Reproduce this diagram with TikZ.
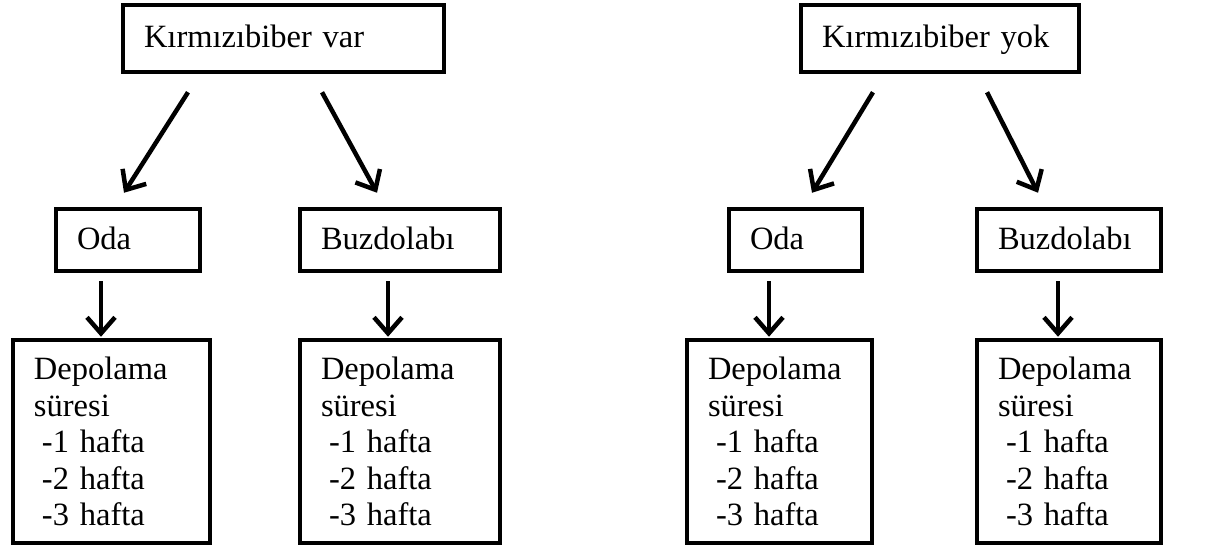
\documentclass[tikz,border=0pt]{standalone}
\usepackage{fontspec}
\setmainfont{Liberation Serif}
\usetikzlibrary{arrows.meta}

\tikzset{
  kutu/.style={draw, line width=4.5pt, inner xsep=21pt, inner ysep=0pt, align=left,
    font=\fontsize{32.5}{36.5}\selectfont},
  tek/.style={text height=22pt, text depth=4pt, minimum height=#1},
  ok/.style={line width=4.5pt, -{Straight Barb[length=16pt, width=28pt]}}
}

\begin{document}
\begin{tikzpicture}[x=1pt, y=-1pt]
            \useasboundingbox (0,0) rectangle (1211,551);
            % ust kutular
            \node[kutu, tek=67pt, minimum width=321pt, text width=279pt] (kvar) at (283.5,38.5) {Kırmızıbiber var};
            \node[kutu, tek=67pt, minimum width=278pt, text width=236pt] (kyok) at (940,38.5) {Kırmızıbiber yok};
            % orta kutular
            \node[kutu, tek=62pt, minimum width=144pt, text width=102pt] (oda1) at (128,240) {Oda};
            \node[kutu, tek=62pt, minimum width=200pt, text width=158pt] (buz1) at (400,240) {Buzdolabı};
            \node[kutu, tek=62pt, minimum width=133pt, text width=91pt] (oda2) at (795.5,240) {Oda};
            \node[kutu, tek=62pt, minimum width=184pt, text width=142pt] (buz2) at (1069,240) {Buzdolabı};
            % alt kutular
            \node[kutu, minimum height=203pt, minimum width=197pt, text width=155pt] (dep1) at (111.5,441.5)
                {Depolama\\süresi\\\hspace*{8pt}-1 hafta\\\hspace*{8pt}-2 hafta\\\hspace*{8pt}-3 hafta};
            \node[kutu, minimum height=203pt, minimum width=200pt, text width=158pt] (dep2) at (400,441.5)
                {Depolama\\süresi\\\hspace*{8pt}-1 hafta\\\hspace*{8pt}-2 hafta\\\hspace*{8pt}-3 hafta};
            \node[kutu, minimum height=203pt, minimum width=185pt, text width=143pt] (dep3) at (779.5,441.5)
                {Depolama\\süresi\\\hspace*{8pt}-1 hafta\\\hspace*{8pt}-2 hafta\\\hspace*{8pt}-3 hafta};
            \node[kutu, minimum height=203pt, minimum width=184pt, text width=142pt] (dep4) at (1069,441.5)
                {Depolama\\süresi\\\hspace*{8pt}-1 hafta\\\hspace*{8pt}-2 hafta\\\hspace*{8pt}-3 hafta};
            % oklar
            \draw[ok] ([xshift=-95.5pt, yshift=-18pt]kvar.south) -- ([xshift=-4pt, yshift=14pt]oda1.north);
            \draw[ok] ([xshift=38.5pt, yshift=-18pt]kvar.south) -- ([xshift=-23pt, yshift=14pt]buz1.north);
            \draw[ok] ([xshift=-67pt, yshift=-18pt]kyok.south) -- ([xshift=16.5pt, yshift=14pt]oda2.north);
            \draw[ok] ([xshift=47pt, yshift=-18pt]kyok.south) -- ([xshift=-31pt, yshift=14pt]buz2.north);
            \draw[ok] ([xshift=-27pt, yshift=-8pt]oda1.south) -- ([xshift=-10.5pt, yshift=1pt]dep1.north);
            \draw[ok] ([xshift=-12pt, yshift=-8pt]buz1.south) -- ([xshift=-12pt, yshift=1pt]dep2.north);
            \draw[ok] ([xshift=-26.5pt, yshift=-8pt]oda2.south) -- ([xshift=-10.5pt, yshift=1pt]dep3.north);
            \draw[ok] ([xshift=-11pt, yshift=-8pt]buz2.south) -- ([xshift=-11pt, yshift=1pt]dep4.north);
        \end{tikzpicture}
\end{document}
